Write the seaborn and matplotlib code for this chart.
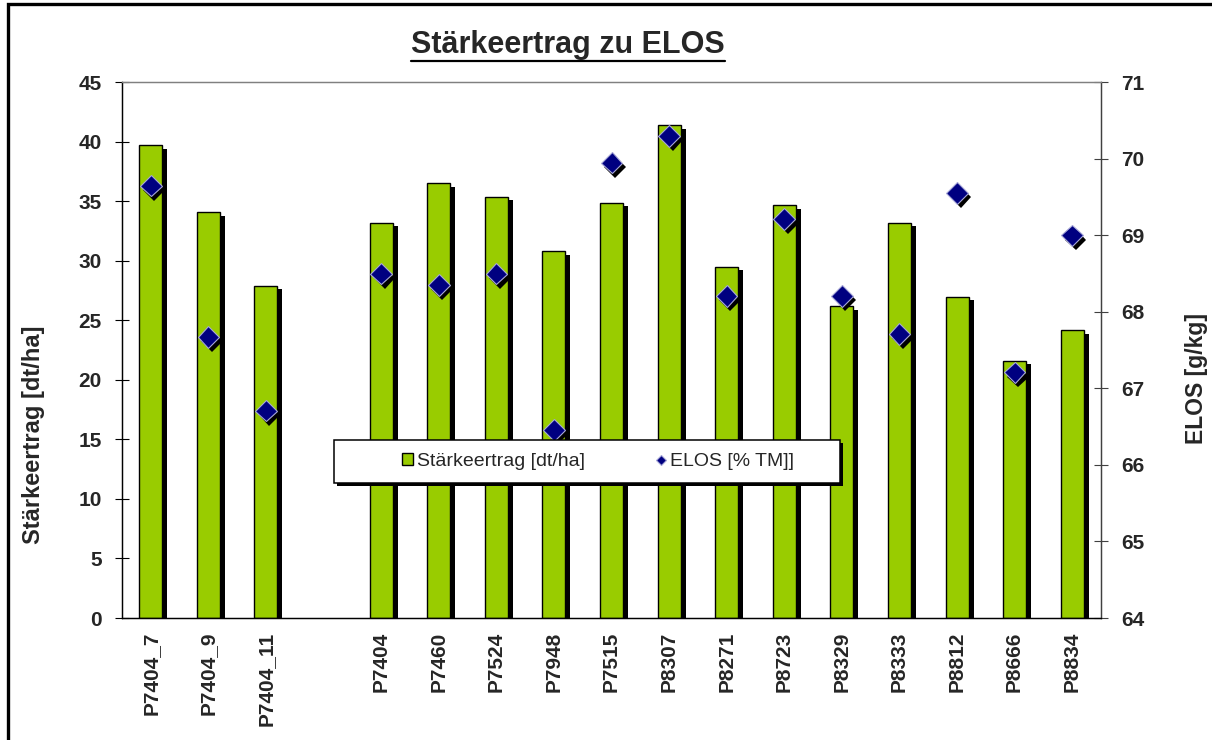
import numpy as np
import pandas as pd
import matplotlib
matplotlib.use('Agg')
import matplotlib.pyplot as plt
import matplotlib.patheffects as pe
from matplotlib.patches import Rectangle
from matplotlib.lines import Line2D
import seaborn as sns

# --- Daten ---
sorten = ['P7404_7', 'P7404_9', 'P7404_11', '',
          'P7404', 'P7460', 'P7524', 'P7948', 'P7515', 'P8307', 'P8271',
          'P8723', 'P8329', 'P8333', 'P8812', 'P8666', 'P8834']
staerke = [39.7, 34.1, 27.9, np.nan,
           33.2, 36.5, 35.4, 30.8, 34.9, 41.4, 29.5,
           34.7, 26.2, 33.2, 27.0, 21.6, 24.2]
elos = [69.65, 67.67, 66.71, np.nan,
        68.50, 68.35, 68.50, 66.46, 69.95, 70.30, 68.21,
        69.21, 68.21, 67.71, 69.55, 67.21, 69.00]

df = pd.DataFrame({'Sorte': sorten, 'Staerke': staerke, 'ELOS': elos})

sns.set_style('white')
plt.rcParams['font.family'] = ['Liberation Sans', 'DejaVu Sans']
plt.rcParams['font.weight'] = 'bold'

fig = plt.figure(figsize=(12.12, 7.4), dpi=100)
ax = fig.add_axes([122 / 1212, 1 - 618 / 740, (1101 - 122) / 1212, (618 - 82.3) / 740])

# --- Balken: Staerkeertrag ---
sns.barplot(data=df, x='Sorte', y='Staerke', order=sorten, color='#99CC00',
            saturation=1, width=0.4, edgecolor='black', linewidth=1.0,
            errorbar=None, label='Stärkeertrag [dt/ha]', ax=ax)

# --- Rauten: ELOS auf zweiter Achse ---
ax2 = ax.twinx()
sns.pointplot(data=df, x='Sorte', y='ELOS', order=sorten, color='#000080',
              markers='D', linestyles='none', errorbar=None,
              label='ELOS [% TM]]', ax=ax2)
for ln in ax2.lines:
    ln.set_markersize(11)
    ln.set_markeredgecolor('#A8A8D8')
    ln.set_markeredgewidth(0.8)

ax.set_ylim(0, 45)
ax2.set_ylim(64, 71)
ax.set_xlim(-0.5, len(sorten) - 0.5)
ax.set_yticks(np.arange(0, 46, 5))
ax2.set_yticks(np.arange(64, 72, 1))

# x-Achse: Beschriftung mittig, Striche zwischen den Kategorien
ax.set_xticks(np.arange(len(sorten)))
ax.set_xticklabels(sorten, rotation=90, fontsize=15, fontweight='bold')
ax.set_xticks(np.arange(len(sorten) + 1) - 0.5, minor=True)
ax.tick_params(axis='x', which='major', length=0, pad=10)
ax.tick_params(axis='x', which='minor', direction='inout', length=8.5, width=0.8, color='black')
ax.tick_params(axis='y', direction='inout', length=9.4, width=0.8, labelsize=15, pad=10, color='black')
ax2.tick_params(axis='y', direction='inout', length=9.4, width=0.8, labelsize=15, pad=10, color='#404040')

ax.set_xlabel('')
ax.set_ylabel('Stärkeertrag [dt/ha]', fontsize=17, fontweight='bold', va='center')
ax.yaxis.set_label_coords(34 / 1212, 1 - 435 / 740, transform=fig.transFigure)
ax2.set_ylabel('ELOS [g/kg]', fontsize=16.5, fontweight='bold', va='center')
ax2.yaxis.set_label_coords(1196 / 1212, 1 - 378 / 740, transform=fig.transFigure)

for a in (ax, ax2):
    for side, col in [('left', 'black'), ('bottom', 'black'), ('top', '#808080'), ('right', '#404040')]:
        a.spines[side].set_color(col)
        a.spines[side].set_linewidth(0.9)
        a.spines[side].set_visible(True)

# --- Legende ---
h1, l1 = ax.get_legend_handles_labels()
h2, l2 = ax2.get_legend_handles_labels()
if ax.get_legend() is not None:
    ax.get_legend().remove()
leg = ax2.legend(h1 + h2, l1 + l2, ncol=2, frameon=False, loc='center',
                 bbox_to_anchor=(598 / 1212, 1 - 461.5 / 740), bbox_transform=fig.transFigure,
                 prop={'size': 14, 'weight': 'normal'}, handlelength=0.57, handleheight=0.57,
                 handletextpad=0.2, columnspacing=3.6, markerscale=0.45)
leg.set_zorder(6)
box = Rectangle((334 / 1212, 1 - 483 / 740), 506 / 1212, 43 / 740, transform=fig.transFigure,
                facecolor='white', edgecolor='black', linewidth=1.1, zorder=5, clip_on=False)
box.set_path_effects([pe.SimplePatchShadow(offset=(1.8, -1.8), shadow_rgbFace='black', alpha=1), pe.Normal()])
ax2.add_patch(box)

# --- Schatten fuer Balken und Rauten ---
for p in ax.patches:
    p.set_path_effects([pe.SimplePatchShadow(offset=(3.6, -2.6), shadow_rgbFace='black', alpha=1), pe.Normal()])
for ln in ax2.lines:
    ln.set_path_effects([pe.SimplePatchShadow(offset=(2.5, -3.0), shadow_rgbFace='black', alpha=1), pe.Normal()])
    ln.set_zorder(4)

# --- Titel (unterstrichen) ---
title = fig.text(568 / 1212, 1 - 53 / 740, 'Stärkeertrag zu ELOS', ha='center', va='baseline',
                 fontsize=22, fontweight='bold')
fig.canvas.draw()
bb = title.get_window_extent(fig.canvas.get_renderer())
fig.add_artist(Line2D([bb.x0 / 1212, bb.x1 / 1212], [1 - 60.5 / 740, 1 - 60.5 / 740],
                      transform=fig.transFigure, color='black', linewidth=1.6))

# --- Rahmen (nur links und oben sichtbar) ---
top = 1 - 4.3 / 740
fig.add_artist(Rectangle((8.3 / 1212, -0.1), 1.2, top + 0.1, transform=fig.transFigure,
                         fill=False, edgecolor='black', linewidth=2.4, clip_on=False))

fig.savefig('out.png', dpi=100)
